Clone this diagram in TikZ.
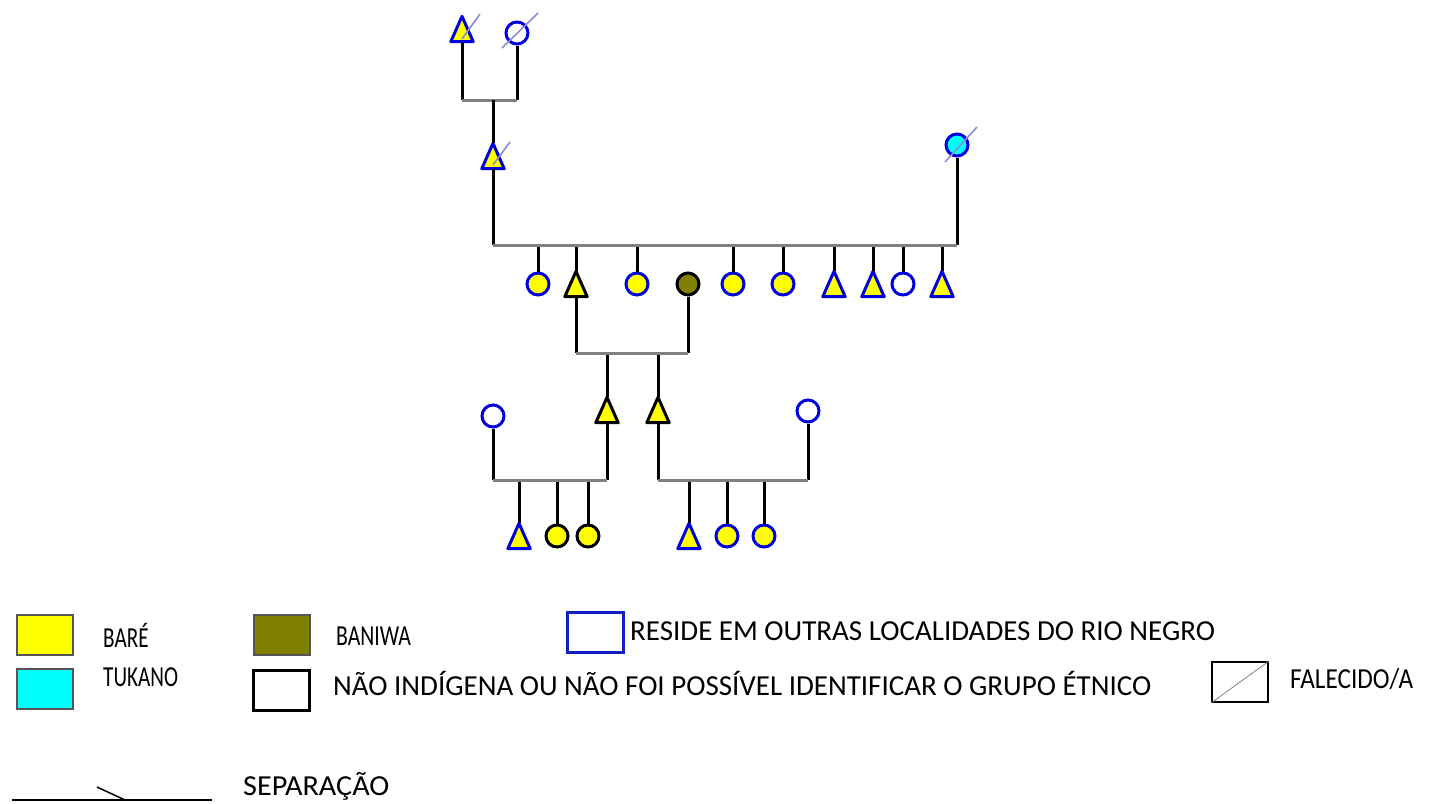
\documentclass[tikz,border=0pt]{standalone}
\usepackage{graphicx}
\usepackage{fontspec}
\setmainfont{Carlito}
\definecolor{byel}{HTML}{FFFF00}
\definecolor{bblue}{HTML}{0000E0}
\definecolor{olivebw}{HTML}{808000}
\definecolor{tuk}{HTML}{00FFFF}
\definecolor{bargray}{HTML}{808080}
\definecolor{slashc}{HTML}{8C8CD0}
\definecolor{legborder}{HTML}{555555}
\definecolor{legblue}{HTML}{1020C0}
\tikzset{
  conn/.style={line width=3pt, black},
  bar/.style={line width=3pt, bargray},
  circ/.style={circle, minimum size=22pt, inner sep=0pt, line width=3pt, draw=#1},
  tribox/.style={rectangle, minimum width=22pt, minimum height=25pt, inner sep=0pt},
  slash/.style={line width=1.6pt, slashc},
  legbox/.style={rectangle, minimum width=56pt, minimum height=40pt, inner sep=0pt, line width=2pt},
  legtext/.style={anchor=west, inner sep=0pt, font=\fontsize{29}{33}\selectfont},
}
\newcommand\ptri[5]{%
  \node[tribox] (#1) at (#2,#3) {};
  \filldraw[fill=#4, draw=#5, line width=3pt, line join=round] (#1.north) -- (#1.south east) -- (#1.south west) -- cycle;
}
\begin{document}
\begin{tikzpicture}[x=1pt,y=-1pt]
\useasboundingbox[fill=white] (0,0) rectangle (1434,803);

% generation 1
\ptri{A}{462}{29}{byel}{bblue}
\node[circ=bblue, fill=white] (B) at (517,33) {};
\draw[slash] (462,39) -- (480,14);
\draw[slash] (502,48) -- (538,13);
\coordinate (j1) at (493,100);
\draw[conn] (A.south) -- (A.south |- j1);
\draw[conn] (B.south) -- (B.south |- j1);
\draw[bar] (A.south |- j1) -- (B.south |- j1);

% generation 2 parents
\ptri{C}{493}{156}{byel}{bblue}
\draw[slash] (493,165) -- (510,142);
\draw[conn] (j1) -- (C.north);
\node[circ=bblue, fill=tuk] (D) at (957,145) {};
\draw[slash] (945,162) -- (977,127);
\coordinate (j2) at (493,245);
\draw[conn] (C.south) -- (j2);
\draw[conn] (D.south) -- (D.south |- j2);

% children
\node[circ=bblue, fill=byel] (k1) at (538,284) {};
\ptri{k2}{576}{284}{byel}{black}
\node[circ=bblue, fill=byel] (k3) at (637,284) {};
\node[circ=black, fill=olivebw] (k4) at (688,284) {};
\node[circ=bblue, fill=byel] (k5) at (733,284) {};
\node[circ=bblue, fill=byel] (k6) at (783,284) {};
\ptri{k7}{834}{284}{byel}{bblue}
\ptri{k8}{873}{284}{byel}{bblue}
\node[circ=bblue, fill=white] (k9) at (903,284) {};
\ptri{k10}{942}{284}{byel}{bblue}
\foreach \k in {k1,k2,k3,k5,k6,k7,k8,k9,k10}{
  \draw[conn] (\k.north |- j2) -- (\k.north);
}
\draw[bar] (j2) -- (D.south |- j2);

% couple k2 - k4
\coordinate (j3) at (576,353);
\draw[conn] (k2.south) -- (j3);
\draw[conn] (k4.south) -- (k4.south |- j3);

% generation 3
\ptri{t1}{607}{410}{byel}{black}
\ptri{t2}{658}{410}{byel}{black}
\node[circ=bblue, fill=white] (w1) at (493,416) {};
\node[circ=bblue, fill=white] (w2) at (808,411) {};
\draw[conn] (t1.north |- j3) -- (t1.north);
\draw[conn] (t2.north |- j3) -- (t2.north);
\draw[bar] (j3) -- (k4.south |- j3);

\coordinate (j4) at (493,480);
\coordinate (j5) at (658,480);
\draw[conn] (w1.south) -- (j4);
\draw[conn] (t1.south) -- (t1.south |- j4);
\draw[conn] (t2.south) -- (j5);
\draw[conn] (w2.south) -- (w2.south |- j5);

% generation 4
\ptri{g1}{519}{536}{byel}{bblue}
\node[circ=black, fill=byel] (g2) at (557,536) {};
\node[circ=black, fill=byel] (g3) at (588,536) {};
\ptri{g4}{689}{536}{byel}{bblue}
\node[circ=bblue, fill=byel] (g5) at (727,536) {};
\node[circ=bblue, fill=byel] (g6) at (764,536) {};
\foreach \g in {g1,g2,g3}{ \draw[conn] (\g.north |- j4) -- (\g.north); }
\foreach \g in {g4,g5,g6}{ \draw[conn] (\g.north |- j5) -- (\g.north); }
\draw[bar] (j4) -- (t1.south |- j4);
\draw[bar] (j5) -- (w2.south |- j5);

% legend
\node[legbox, draw=legborder, fill=byel] (lb1) at (44.5,634.5) {};
\node[legtext] (lt1) at (103,635) {\scalebox{0.73}[1]{BARÉ}};
\node[legbox, draw=legborder, fill=olivebw] (lb2) at (281.5,634.5) {};
\node[legtext] (lt2) at (336,636) {\scalebox{0.75}[1]{BANIWA}};
\node[legbox, draw=legblue, line width=3pt, fill=white] (lb3) at (595,632) {};
\node[legtext] (lt3) at (630,631) {RESIDE EM OUTRAS LOCALIDADES DO RIO NEGRO};
\node[legbox, draw=legborder, fill=tuk] (lb4) at (44.5,688.5) {};
\node[legtext] (lt4) at (103,677) {\scalebox{0.73}[1]{TUKANO}};
\node[legbox, draw=black, line width=3pt, fill=white] (lb5) at (281.5,690) {};
\node[legtext] (lt5) at (333,683) {NÃO INDÍGENA OU NÃO FOI POSSÍVEL IDENTIFICAR O GRUPO ÉTNICO};
\node[legbox, draw=black, fill=white] (lb6) at (1240,682) {};
\draw[line width=0.8pt, gray] (lb6.south west) -- (lb6.north east);
\node[legtext] (lt6) at (1290,679) {\scalebox{0.87}[1]{FALECIDO/A}};

\coordinate (s1) at (12,800);
\coordinate (s2) at (212,800);
\coordinate (s3) at (97,787);
\coordinate (s4) at (125,800);
\draw[line width=1.5pt] (s1) -- (s2);
\draw[line width=1.5pt] (s3) -- (s4);
\node[legtext, anchor=base west] (lt7) at (243,795) {\scalebox{1.04}[1]{SEPARAÇÃO}};
\end{tikzpicture}
\end{document}
